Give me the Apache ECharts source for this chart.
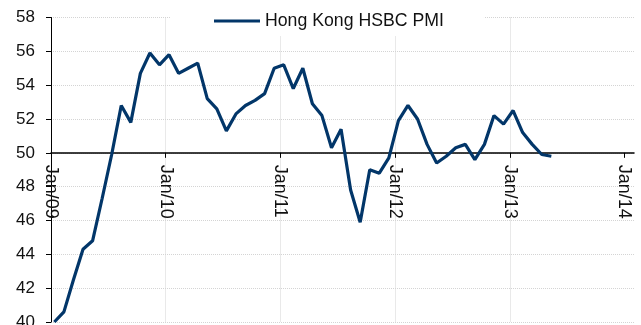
<!DOCTYPE html>
<html>
<head>
<meta charset="utf-8">
<script src="https://cdn.jsdelivr.net/npm/echarts@6/dist/echarts.min.js"></script>
<style>
  html, body { margin: 0; padding: 0; background: #fff; }
  #chart { width: 641px; height: 325px; }
</style>
</head>
<body>
<div id="chart"></div>
<script>
// Monthly Hong Kong HSBC PMI readings, Jan 2009 - May 2013
const months = [
  '2009-01','2009-02','2009-03','2009-04','2009-05','2009-06','2009-07','2009-08','2009-09','2009-10','2009-11','2009-12',
  '2010-01','2010-02','2010-03','2010-04','2010-05','2010-06','2010-07','2010-08','2010-09','2010-10','2010-11','2010-12',
  '2011-01','2011-02','2011-03','2011-04','2011-05','2011-06','2011-07','2011-08','2011-09','2011-10','2011-11','2011-12',
  '2012-01','2012-02','2012-03','2012-04','2012-05','2012-06','2012-07','2012-08','2012-09','2012-10','2012-11','2012-12',
  '2013-01','2013-02','2013-03','2013-04','2013-05'
];
const pmi = [
  40.0, 40.6, 42.5, 44.3, 44.8, 47.3, 49.9, 52.8, 51.8, 54.7, 55.9, 55.2,
  55.8, 54.7, 55.0, 55.3, 53.2, 52.6, 51.3, 52.3, 52.8, 53.1, 53.5, 55.0,
  55.2, 53.8, 55.0, 52.9, 52.2, 50.3, 51.4, 47.8, 45.9, 49.0, 48.8, 49.7,
  51.9, 52.8, 52.0, 50.5, 49.4, 49.8, 50.3, 50.5, 49.6, 50.5, 52.2, 51.7,
  52.5, 51.2, 50.5, 49.9, 49.8
];
const tickLabels = ['Jan/09', 'Jan/10', 'Jan/11', 'Jan/12', 'Jan/13', 'Jan/14'];
const yTicks = [40, 42, 44, 46, 48, 50, 52, 54, 56, 58];

const startYear = 2009;
const monthSpan = 61;        // axis runs Jan 2009 .. Feb 2014
const pointOffset = 0.35;    // readings sit a little into their month
const crossValue = 50;       // the date axis crosses the PMI scale at 50

const monthIndex = s => {
  const [y, m] = s.split('-').map(Number);
  return (y - startYear) * 12 + (m - 1);
};
const points = months.map((s, i) => [monthIndex(s) + pointOffset, pmi[i]]);
const tickValues = tickLabels.map((_, i) => i * 12);

const gridTop = 17.5, gridBottom = 3;
const chartEl = document.getElementById('chart');
const plotH = chartEl.clientHeight - gridTop - gridBottom;
const yMin = yTicks[0], yMax = yTicks[yTicks.length - 1];
const crossOffset = -plotH * (crossValue - yMin) / (yMax - yMin);

const chart = echarts.init(chartEl, null, { renderer: 'canvas' });
const font = 'Liberation Sans, Arial, sans-serif';
const lineColor = '#023669';
const gridLine = { show: true, lineStyle: { color: '#d4d4d4', width: 1, type: [1, 1] } };

chart.setOption({
  animation: false,
  backgroundColor: '#fff',
  legend: {
    left: 170,
    top: 4,
    padding: [8, 40, 6, 44],
    backgroundColor: '#fff',
    icon: 'rect',
    itemWidth: 46,
    itemHeight: 3,
    itemGap: 6,
    textStyle: { fontFamily: font, fontSize: 17.7, color: '#111' },
    data: ['Hong Kong HSBC PMI']
  },
  grid: {
    left: 51, right: 7, top: gridTop, bottom: gridBottom,
    containLabel: false,
    outerBoundsMode: 'none'
  },
  xAxis: {
    type: 'value',
    min: 0,
    max: monthSpan,
    interval: 12,
    position: 'bottom',
    offset: crossOffset,
    axisLine: { show: true, lineStyle: { color: '#000', width: 1.5 } },
    axisTick: { show: true, length: 5, lineStyle: { color: '#000', width: 1 }, customValues: tickValues },
    axisLabel: {
      customValues: tickValues,
      rotate: -90,
      margin: 12,
      fontFamily: font,
      fontSize: 18,
      color: '#111',
      formatter: v => tickLabels[Math.round(v / 12)] || ''
    },
    splitLine: Object.assign({ showMaxLine: false }, gridLine)
  },
  yAxis: {
    type: 'value',
    min: yMin,
    max: yMax,
    interval: 2,
    axisLine: { show: true, lineStyle: { color: '#000', width: 1 } },
    axisTick: { show: true, length: 5, lineStyle: { color: '#000' } },
    axisLabel: { margin: 16, fontFamily: font, fontSize: 17, color: '#111' },
    splitLine: gridLine
  },
  series: [{
    name: 'Hong Kong HSBC PMI',
    type: 'line',
    data: points,
    symbol: 'none',
    showSymbol: false,
    lineStyle: { color: lineColor, width: 3.2 },
    itemStyle: { color: lineColor },
    z: 3
  }]
});
</script>
</body>
</html>
